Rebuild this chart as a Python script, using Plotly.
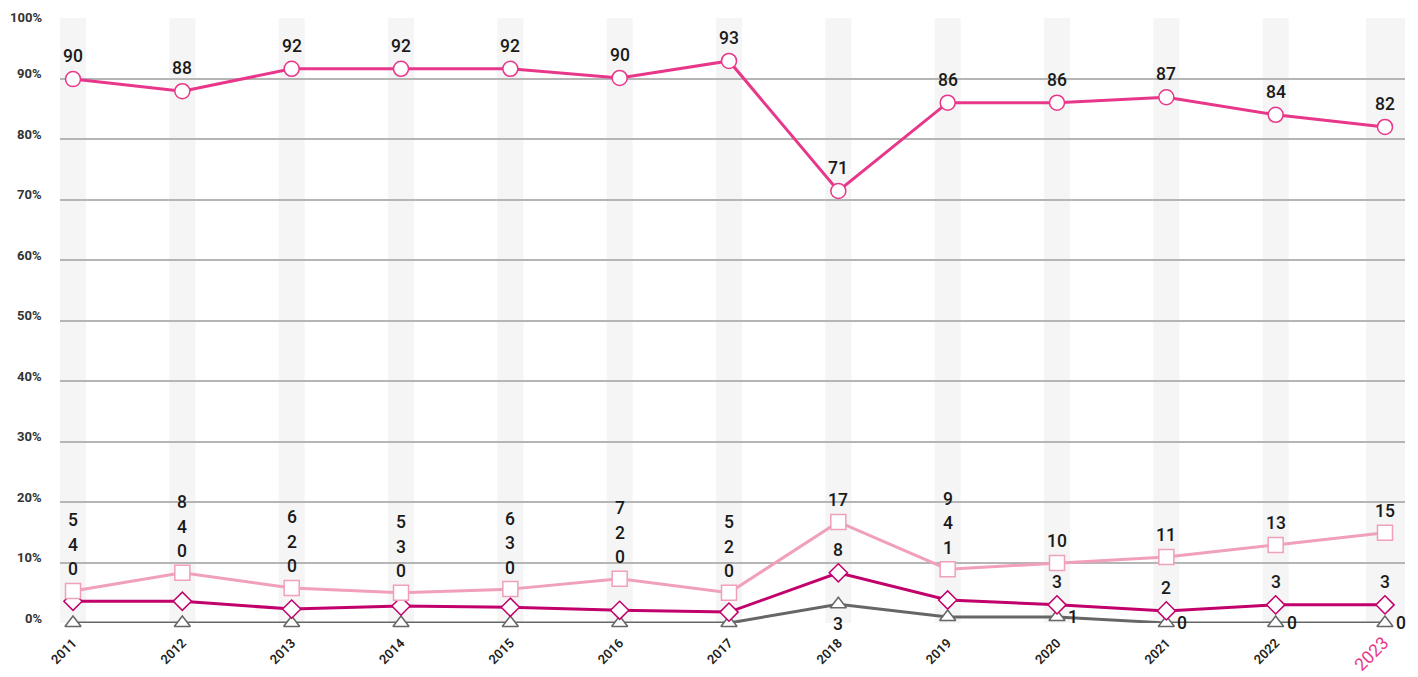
import plotly.graph_objects as go

years = [2011, 2012, 2013, 2014, 2015, 2016, 2017, 2018, 2019, 2020, 2021, 2022, 2023]
series_top = [89.9, 87.9, 91.6, 91.6, 91.6, 90.1, 92.9, 71.4, 86.0, 86.0, 86.9, 84.0, 82.0]
series_light = [5.3, 8.3, 5.8, 5.0, 5.6, 7.3, 5.0, 16.7, 8.9, 9.9, 10.9, 12.9, 14.9]
series_dark = [3.6, 3.6, 2.3, 2.8, 2.6, 2.1, 1.8, 8.3, 3.8, 3.0, 2.0, 3.0, 3.0]
series_gray = [0, 0, 0, 0, 0, 0, 0, 3.1, 1.0, 1.0, 0, 0, 0]
y_ticks = [0, 10, 20, 30, 40, 50, 60, 70, 80, 90, 100]

# label placement style per year
stacked_years = [2011, 2012, 2013, 2014, 2015, 2016, 2017, 2019]
gray_below_years = [2018]

C_TOP = "#e8378a"
C_LIGHT = "#f09fbd"
C_DARK = "#c2006b"
C_GRAY = "#666666"
LABEL_FONT = dict(family="Roboto", size=17.5, color="#1a1a1a", weight=500)
YTICK_FONT = dict(family="Roboto", size=13, color="#333", weight=700)

fig = go.Figure()

x_min = years[0] - 0.119
x_max = years[-1] + 0.183

# background bands
for i, yr in enumerate(years):
    x0 = yr - 0.119
    x1 = yr + 0.119
    if i == len(years) - 1:
        x0 = yr - 0.175
        x1 = x_max
    fig.add_shape(type="rect", xref="x", yref="paper", x0=x0, x1=x1, y0=0, y1=1,
                  fillcolor="#f4f5f4", line_width=0, layer="below")

def add_series(vals, color, symbol, size, lw):
    fig.add_trace(go.Scatter(
        x=years, y=vals, mode="lines+markers",
        line=dict(color=color, width=lw),
        marker=dict(symbol=symbol, size=size, color="white",
                    line=dict(color=color, width=1.5)),
        cliponaxis=False, showlegend=False, hoverinfo="x+y"))

add_series(series_gray, C_GRAY, "triangle-up", 14, 3)
add_series(series_dark, C_DARK, "diamond", 14, 3)
add_series(series_light, C_LIGHT, "square", 15, 3)
add_series(series_top, C_TOP, "circle", 15, 3)

def lab(x, y, v, xshift=0, yshift=0, xanchor="center"):
    fig.add_annotation(x=x, y=y, text=f"{v:.0f}", showarrow=False, xshift=xshift,
                       yshift=yshift, xanchor=xanchor, yanchor="middle", font=LABEL_FONT)

for i, yr in enumerate(years):
    lab(yr, series_top[i], series_top[i], yshift=23)
    if yr in stacked_years:
        stack = [series_gray[i], series_dark[i], series_light[i]]
        for k, v in enumerate(stack):
            lab(yr, series_light[i], v, yshift=21.5 + 24.5 * k)
    else:
        lab(yr, series_light[i], series_light[i], yshift=22)
        lab(yr, series_dark[i], series_dark[i], yshift=23)
        if yr in gray_below_years:
            lab(yr, series_gray[i], series_gray[i], yshift=-20)
        else:
            lab(yr, series_gray[i], series_gray[i], xshift=9, xanchor="left")

# y tick labels sit just above their gridlines (top one kept inside the figure)
for t in y_ticks:
    if t == y_ticks[-1]:
        fig.add_annotation(xref="paper", yref="y", x=0, y=t, text=f"{t}%", showarrow=False,
                           xanchor="right", yanchor="top", xshift=-16, yshift=10,
                           font=YTICK_FONT)
    else:
        fig.add_annotation(xref="paper", yref="y", x=0, y=t, text=f"{t}%", showarrow=False,
                           xanchor="right", yanchor="middle", xshift=-16, yshift=5,
                           font=YTICK_FONT)

tick_text = [str(y) for y in years[:-1]] + [
    f"<span style='font-size:17.5px;color:{C_TOP};font-weight:400'>{years[-1]}</span>"]

# page body has an 8px margin: size the figure so the plot lands where the reference has it
fig.update_layout(
    width=1410, height=669,
    margin=dict(l=52, r=13, t=10, b=54),
    plot_bgcolor="white", paper_bgcolor="white",
    xaxis=dict(range=[x_min, x_max], tickmode="array", tickvals=years, ticktext=tick_text,
               tickangle=-45, showgrid=False, zeroline=False, showline=False,
               tickfont=dict(family="Roboto", size=13, color="#222", weight=600),
               ticks="", ticklabelstandoff=9, automargin=False),
    yaxis=dict(range=[0, 100], tickmode="array", tickvals=y_ticks,
               showticklabels=False,
               showgrid=True, gridcolor="#b5b5b5", gridwidth=1.5, zeroline=False,
               showline=False, ticks="", automargin=False),
)

fig.write_html("out.html")
